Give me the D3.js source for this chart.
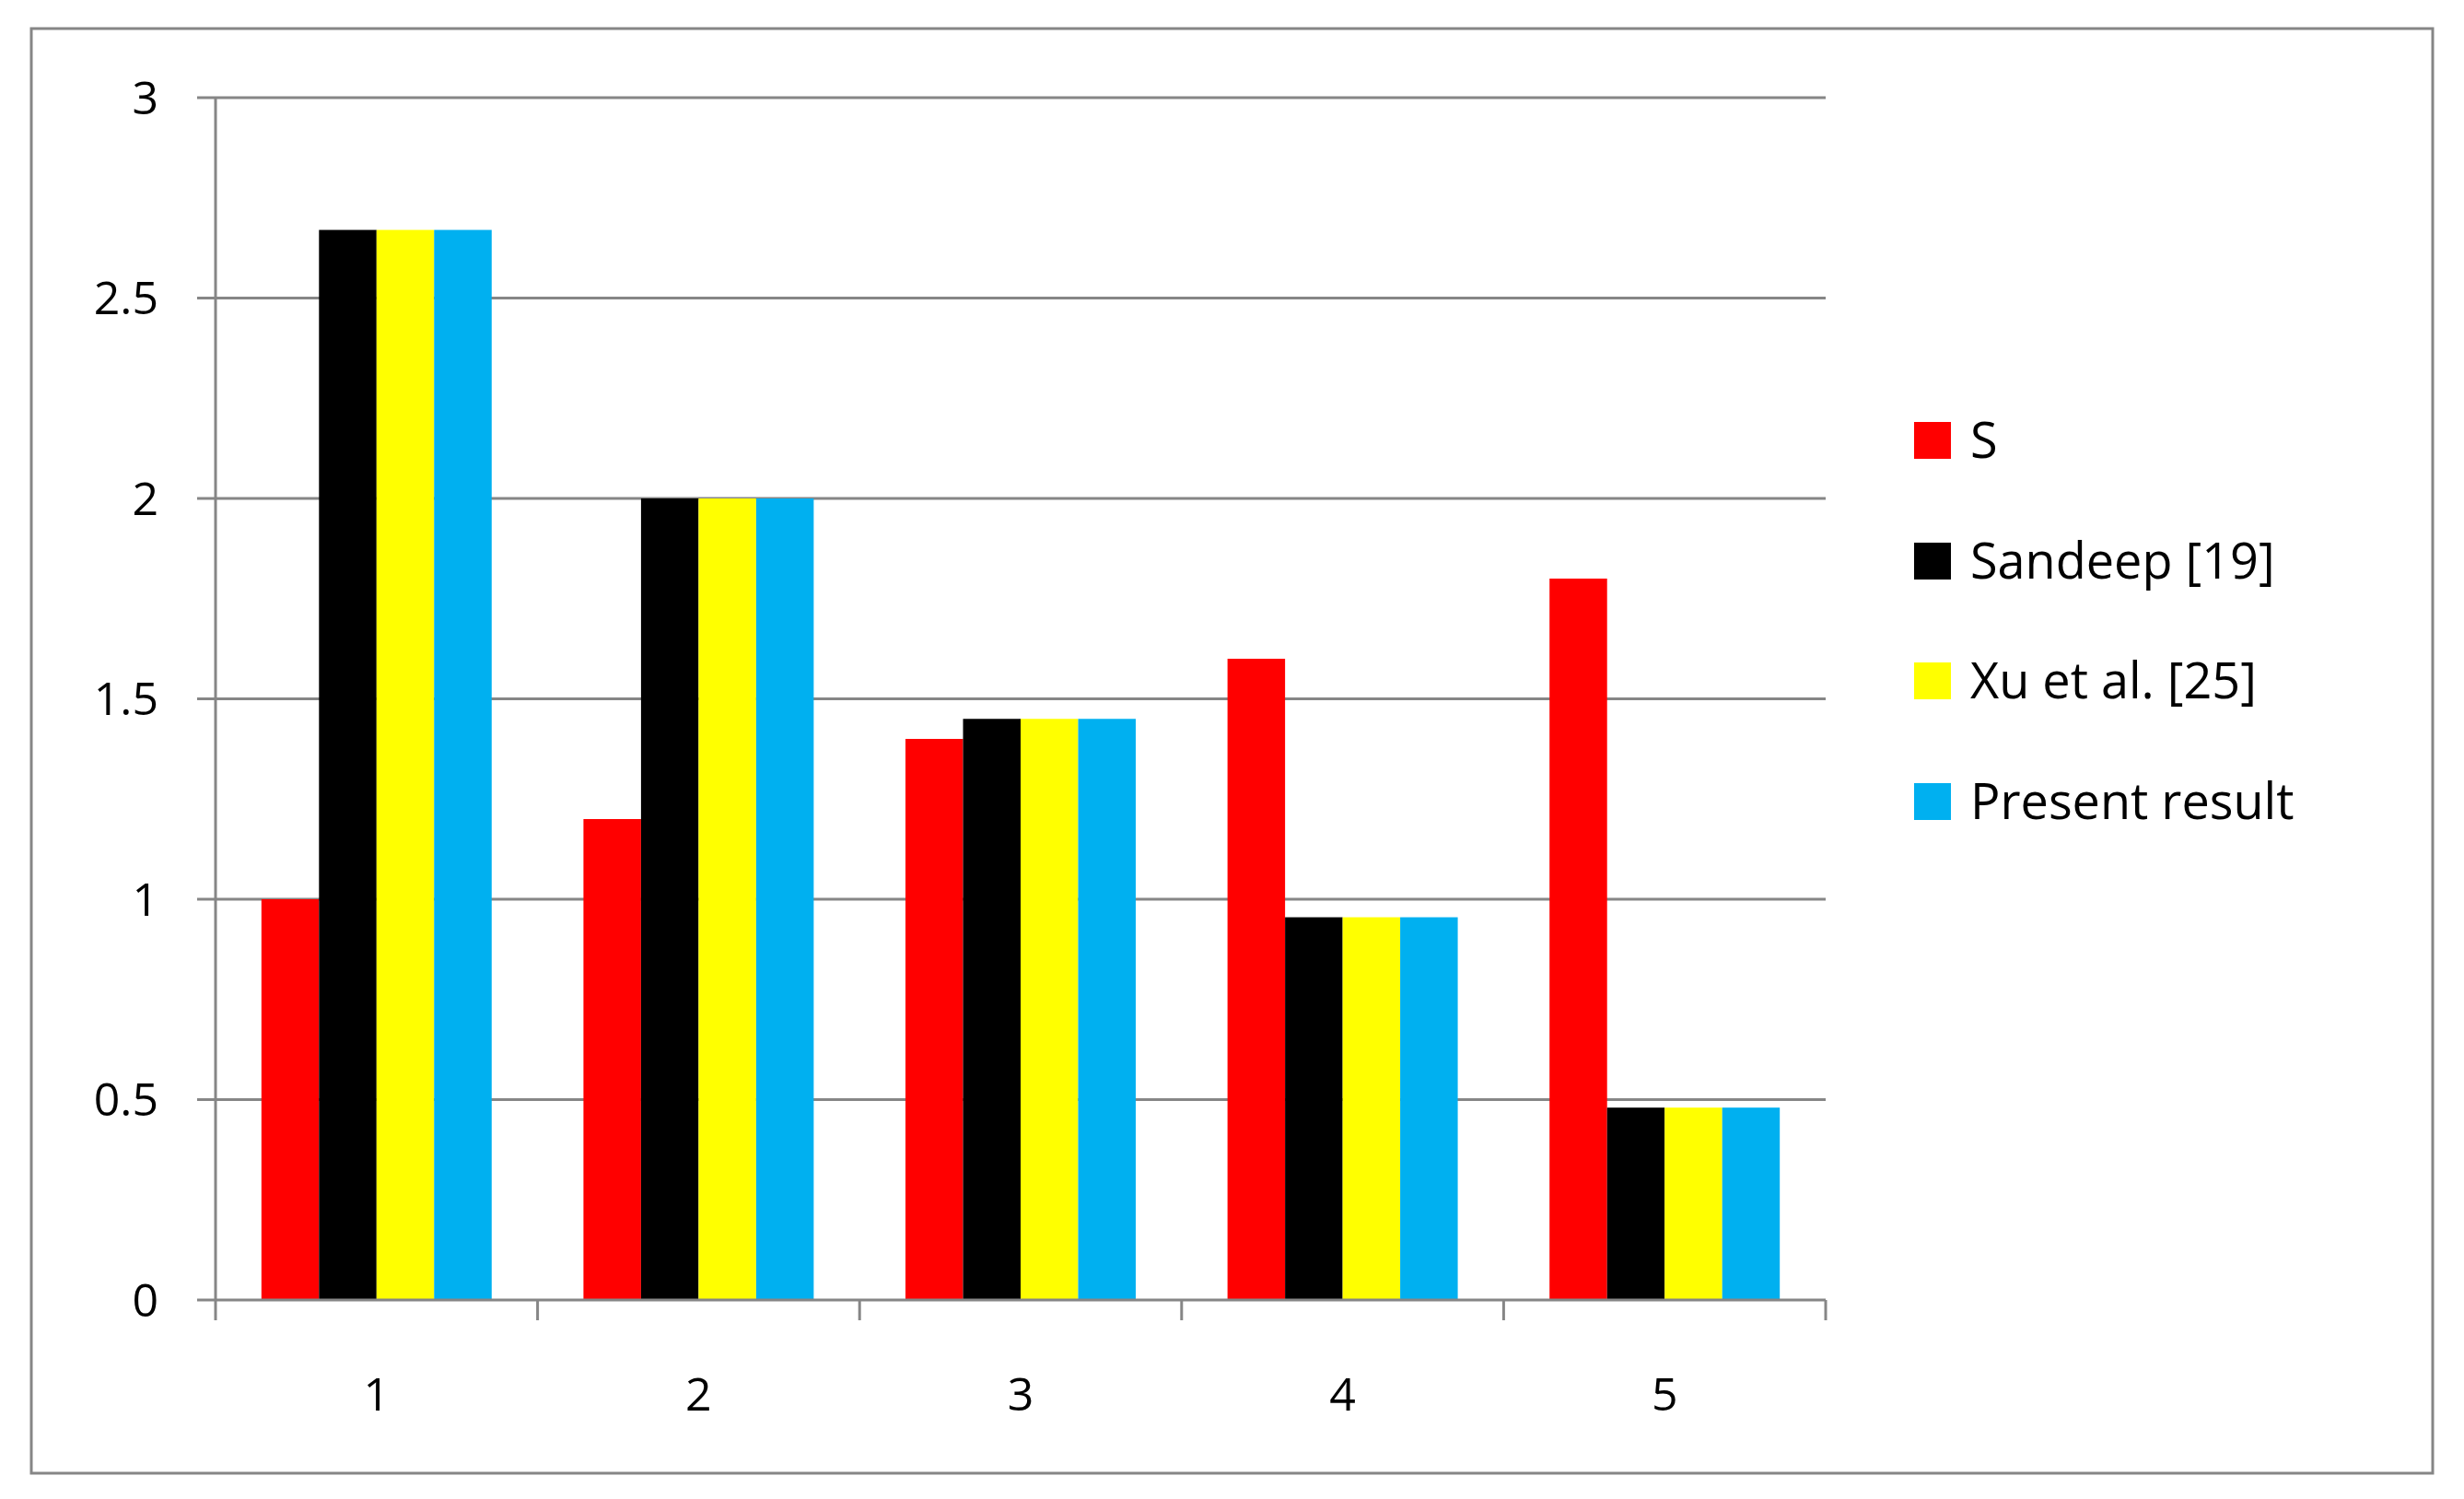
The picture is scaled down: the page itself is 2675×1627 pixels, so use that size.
<!DOCTYPE html>
<html><head><meta charset="utf-8">
<script src="https://cdn.jsdelivr.net/npm/d3@7"></script>
<style>body{margin:0;background:#fff}svg text{font-family:"Open Sans",sans-serif}</style>
</head><body><svg id="c" width="2675" height="1627"></svg>
<script>
const categories = ["1","2","3","4","5"];
const seriesNames = ["S","Sandeep [19]","Xu et al. [25]","Present result"];
const S = [1.0,1.2,1.4,1.6,1.8];
const Sandeep = [2.67,2.0,1.45,0.955,0.48];
const Xu = [2.67,2.0,1.45,0.955,0.48];
const Present = [2.67,2.0,1.45,0.955,0.48];
const yTicks = [0,0.5,1,1.5,2,2.5,3];
const colors = ["#ff0000","#000000","#ffff00","#00b0f0"];
const series=[S,Sandeep,Xu,Present];

const svg=d3.select("#c");
svg.append("rect").attr("x",34).attr("y",31).attr("width",2607).attr("height",1568).attr("fill","#fff").attr("stroke","#868686").attr("stroke-width",3);
const x0=234,x1=1982,yb=1411,yt=106;
const x=d3.scaleBand().domain(categories).range([x0,x1]).paddingInner(0.285).paddingOuter(0.1425);
const xs=d3.scaleBand().domain(d3.range(4)).range([0,x.bandwidth()]);
const y=d3.scaleLinear().domain([0,3]).range([yb,yt]);
const band=d3.scaleBand().domain(categories).range([x0,x1]);
svg.append("g").selectAll("line").data(yTicks.filter(d=>d>0)).join("line")
 .attr("x1",x0).attr("x2",x1).attr("y1",d=>y(d)).attr("y2",d=>y(d)).attr("stroke","#868686").attr("stroke-width",3);
series.forEach((arr,i)=>{
 svg.append("g").selectAll("rect").data(arr).join("rect")
  .attr("x",(d,j)=>x(categories[j])+xs(i)).attr("width",xs.bandwidth())
  .attr("y",d=>y(d)).attr("height",d=>yb-y(d)).attr("fill",colors[i]);
});
const ax=svg.append("g").attr("stroke","#868686").attr("stroke-width",3);
ax.append("line").attr("x1",x0).attr("x2",x0).attr("y1",yt).attr("y2",yb);
ax.append("line").attr("x1",x0).attr("x2",x1).attr("y1",yb).attr("y2",yb);
yTicks.forEach(t=>ax.append("line").attr("x1",x0-20).attr("x2",x0).attr("y1",y(t)).attr("y2",y(t)));
categories.concat(["end"]).forEach((c,i)=>{const xx=i<5?band(c):x1;ax.append("line").attr("x1",xx).attr("x2",xx).attr("y1",yb).attr("y2",yb+22);});
svg.append("g").selectAll("text").data(yTicks).join("text").attr("x",172).attr("y",d=>y(d)).attr("dy","0.35em")
 .attr("text-anchor","end").attr("font-size",50).attr("fill","#000").text(d=>d);
svg.append("g").selectAll("text").data(categories).join("text").attr("x",d=>band(d)+band.bandwidth()/2).attr("y",1513).attr("dy","0.35em")
 .attr("text-anchor","middle").attr("font-size",50).text(d=>d);
const ly=[478,609,739,870];
seriesNames.forEach((n,i)=>{
 svg.append("rect").attr("x",2078).attr("y",ly[i]-20).attr("width",40).attr("height",40).attr("fill",colors[i]);
 svg.append("text").attr("x",2139).attr("y",ly[i]).attr("dy","0.35em").attr("font-size",54).text(n);
});
</script></body></html>
